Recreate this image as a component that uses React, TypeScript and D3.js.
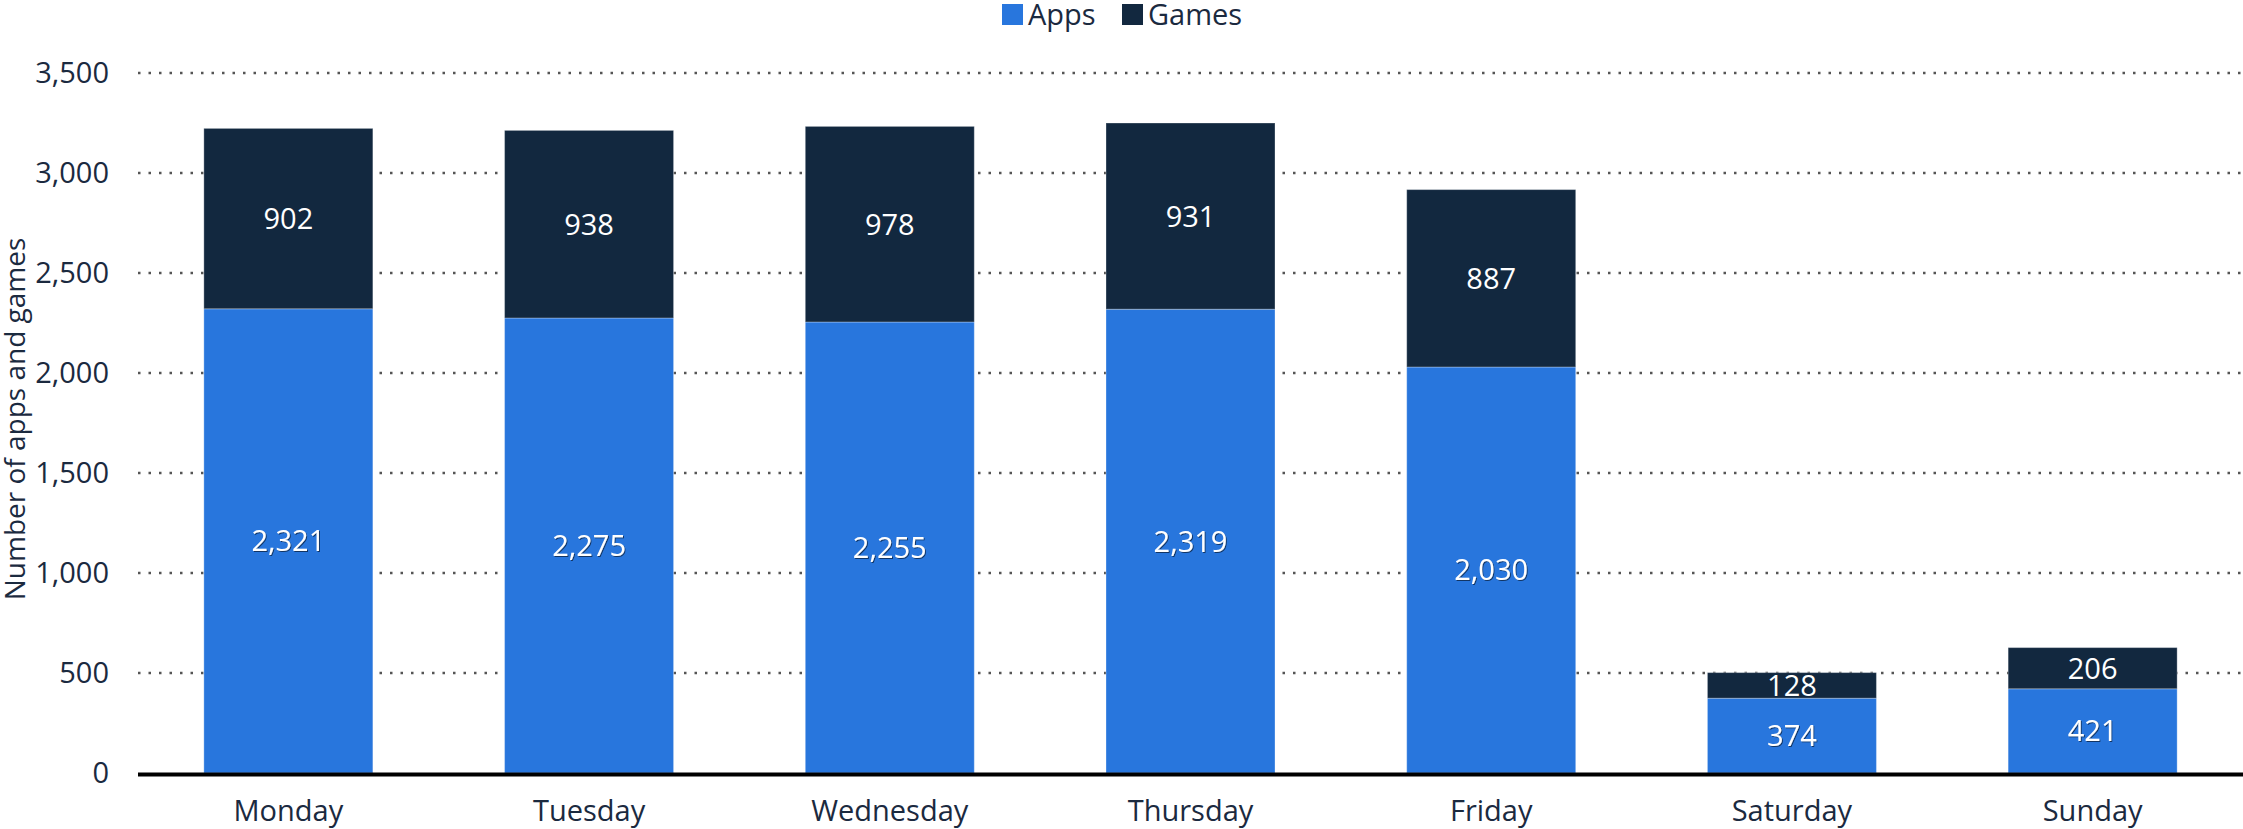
import React from "react";
import * as d3 from "d3";

const days = ["Monday", "Tuesday", "Wednesday", "Thursday", "Friday", "Saturday", "Sunday"];
const apps = [2321, 2275, 2255, 2319, 2030, 374, 421];
const games = [902, 938, 978, 931, 887, 128, 206];
const yTicks = [0, 500, 1000, 1500, 2000, 2500, 3000, 3500];
const seriesNames = ["Apps", "Games"];
const seriesColors = ["#2876dd", "#12283f"];

const W = 2243;
const H = 829;
const M = { left: 138, right: 2243, top: 73, bottom: 773 };
const FONT = "'Open Sans', 'Noto Sans', sans-serif";
const TEXT = "#1b2a3f";
const FS = 29;

export default function App() {
  const x = d3.scaleBand<string>().domain(days).range([M.left, M.right]).paddingInner(0.438).paddingOuter(0.219);
  const y = d3.scaleLinear().domain([0, 3500]).range([M.bottom, M.top]);
  const fmt = d3.format(",");

  const stacked = d3.stack<any>().keys(["apps", "games"])(
    days.map((d, i) => ({ day: d, apps: apps[i], games: games[i] }))
  );

  return (
    <svg width={W} height={H} style={{ display: "block", position: "absolute", left: 0, top: 0 }}>
      <defs>
        <filter id="shadow" x="-20%" y="-20%" width="140%" height="140%">
          <feDropShadow dx="1" dy="1" stdDeviation="0.6" floodColor="#000" floodOpacity="0.55" />
        </filter>
      </defs>
      <rect width={W} height={H} fill="#fff" />
      {yTicks.filter((t) => t > 0).map((t) => (
        <line key={t} x1={M.left} x2={M.right} y1={y(t)} y2={y(t)} stroke="#555" strokeWidth={2.5} strokeDasharray="2.5,8" />
      ))}
      {yTicks.map((t) => (
        <text key={t} x={109} y={y(t)} dy="0.35em" textAnchor="end" fontFamily={FONT} fontSize={FS} fill={TEXT}>
          {fmt(t)}
        </text>
      ))}
      <text transform={`translate(25,${(M.top + M.bottom) / 2 - 4}) rotate(-90)`} textAnchor="middle" fontFamily={FONT} fontSize={FS - 1} fill={TEXT}>
        Number of apps and games
      </text>
      {stacked.map((s, si) => (
        <g key={s.key}>
          {s.map((d, i) => (
            <rect key={i} x={x(days[i])} width={x.bandwidth()} y={y(d[1])} height={y(d[0]) - y(d[1])} fill={seriesColors[si]} stroke="rgba(255,255,255,0.3)" strokeWidth={1} />
          ))}
        </g>
      ))}
      {stacked.map((s, si) => (
        <g key={"l" + s.key}>
          {s.map((d, i) => (
            <text key={i} x={(x(days[i]) as number) + x.bandwidth() / 2} y={(y(d[0]) + y(d[1])) / 2} dy="0.36em" textAnchor="middle" fontFamily={FONT} fontSize={FS} fill="#fff" filter={si === 0 ? "url(#shadow)" : undefined}>
              {fmt(d[1] - d[0])}
            </text>
          ))}
        </g>
      ))}
      <line x1={M.left} x2={M.right} y1={M.bottom + 1.5} y2={M.bottom + 1.5} stroke="#000" strokeWidth={4} />
      {days.map((d) => (
        <text key={d} x={(x(d) as number) + x.bandwidth() / 2} y={821} textAnchor="middle" fontFamily={FONT} fontSize={FS} fill={TEXT}>
          {d}
        </text>
      ))}
      <rect x={1002} y={4} width={21} height={21} fill={seriesColors[0]} />
      <text x={1028} y={25} fontFamily={FONT} fontSize={FS} fill={TEXT}>{seriesNames[0]}</text>
      <rect x={1122} y={4} width={21} height={21} fill={seriesColors[1]} />
      <text x={1148} y={25} fontFamily={FONT} fontSize={FS} fill={TEXT}>{seriesNames[1]}</text>
    </svg>
  );
}
